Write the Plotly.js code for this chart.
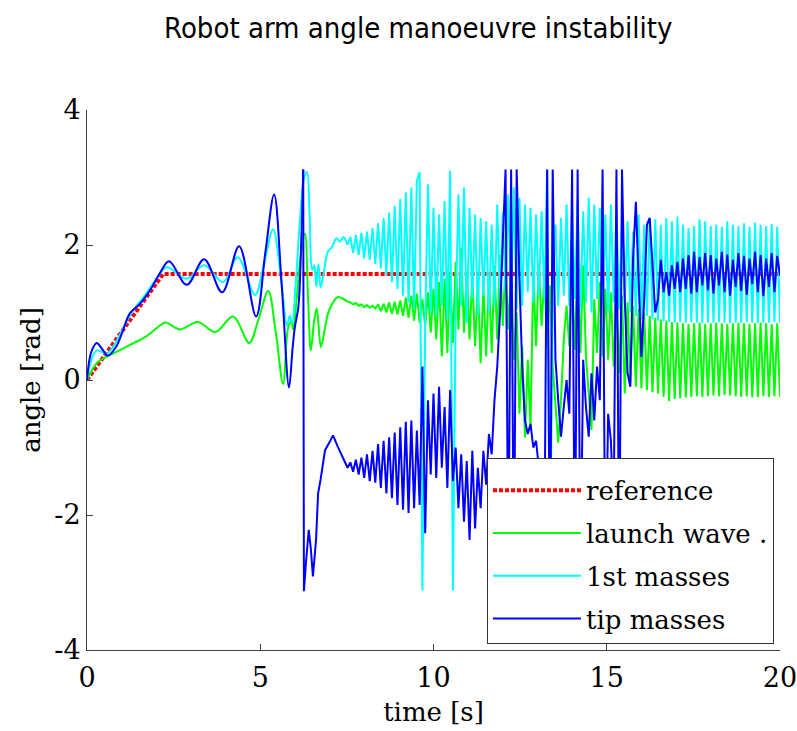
<!DOCTYPE html>
<html>
<head>
<meta charset="utf-8">
<script src="https://cdn.plot.ly/plotly-3.0.1.min.js"></script>
<style>
html,body{margin:0;padding:0;background:#fff;}
#chart{width:797px;height:731px;}
</style>
</head>
<body>
<div id="chart"></div>
<script>
// ---------- data ----------
var seriesNames = ["reference", "launch wave .", "1st masses", "tip masses"];

var xTickVals = [0, 5, 10, 15, 20];
var xTickText = ["0", "5", "10", "15", "20"];
var yTickVals = [4, 2, 0, -2, -4];
var yTickText = ["4", "2", "0", "-2", "-4"];

// reference command
var ref_t = [0, 2.2, 20];
var ref_v = [0, 1.5708, 1.5708];

// smooth early parts (time, value)
var green_t_early = [0,0.3,0.75,1.24,1.72,2.2,2.3,2.68,3.2,3.7,4.22,4.68,4.95,5.23,5.45,5.66,5.81,5.9,5.95,6.05,6.18,6.29,6.38,6.46,6.55,6.63,6.75,6.85,6.96,7.1,7.24,7.4,7.52];
var green_v_early = [0,0.26,0.39,0.52,0.65,0.84,0.85,0.75,0.86,0.71,0.94,0.55,0.9,1.32,0.7,-0.06,0.79,0.86,0.75,1.2,1.9,2.17,1.2,0.44,0.85,1.06,0.49,0.72,0.99,1.15,1.23,1.2,1.16];

var cyan_t_early = [0,0.1,0.28,0.57,0.75,1.0,1.24,1.72,2.0,2.3,2.88,3.38,3.93,4.35,4.85,5.1,5.37,5.6,5.77,5.85,5.92,6.02,6.15,6.27,6.35,6.42,6.5,6.56,6.62,6.68,6.74,6.82,6.95,7.07,7.2,7.3,7.4,7.52];
var cyan_v_early = [0,0.25,0.44,0.39,0.49,0.72,0.96,1.29,1.5,1.67,1.5,1.7,1.45,1.82,1.26,1.7,2.23,1.5,0.81,0.95,0.85,1.4,2.4,3.0,3.08,2.5,1.63,1.7,1.38,1.72,1.37,1.55,1.9,1.97,2.1,2.05,2.12,2.0];

var blue_t_early = [0,0.07,0.14,0.28,0.45,0.6,0.85,1.04,1.24,1.53,1.82,2.1,2.37,2.88,3.38,3.9,4.39,4.88,5.15,5.4,5.62,5.83,5.93,6.0,6.1,6.18,6.24];
var blue_v_early = [0,0.3,0.44,0.55,0.45,0.36,0.5,0.74,0.99,1.13,1.33,1.58,1.76,1.41,1.79,1.3,1.98,0.94,1.9,2.75,1.4,-0.11,0.45,0.79,1.08,2.0,3.12];

// tip masses after the first wrap-around
var blue_t_mid = [6.26,6.32,6.4,6.46,6.52,6.61,6.67,6.74,6.87,7.01,7.1,7.24,7.34,7.44,7.52];
var blue_v_mid = [-3.13,-2.7,-2.22,-2.5,-2.91,-2.37,-1.68,-1.48,-1.04,-0.91,-0.82,-0.99,-1.1,-1.23,-1.3];

// oscillating late part, shared sample times
var t_late = [
 7.60,7.68,7.76,7.84,7.92,8.00,8.08,8.16,8.24,8.32,
 8.40,8.48,8.56,8.64,8.72,8.80,8.88,8.96,9.04,9.12,
 9.20,9.28,9.36,9.44,9.52,9.60,9.68,9.76,9.84,9.92,
 10.00,10.08,10.16,10.24,10.32,10.40,10.48,10.56,10.64,10.72,
 10.80,10.88,10.96,11.04,11.12,11.20,11.28,11.36,11.44,11.52,
 11.60,11.68,11.76,11.84,11.92,12.00,12.08,12.16,12.24,12.32,
 12.40,12.48,12.56,12.64,12.72,12.80,12.88,12.96,13.04,13.12,
 13.20,13.28,13.36,13.44,13.52,13.60,13.68,13.76,13.84,13.92,
 14.00,14.08,14.16,14.24,14.32,14.40,14.48,14.56,14.64,14.72,
 14.80,14.88,14.96,15.04,15.12,15.20,15.28,15.36,15.44,15.52,
 15.60,15.68,15.76,15.84,15.92,16.00,16.08,16.16,16.24,16.32,
 16.40,16.48,16.56,16.64,16.72,16.80,16.88,16.96,17.04,17.12,
 17.20,17.28,17.36,17.44,17.52,17.60,17.68,17.76,17.84,17.92,
 18.00,18.08,18.16,18.24,18.32,18.40,18.48,18.56,18.64,18.72,
 18.80,18.88,18.96,19.04,19.12,19.20,19.28,19.36,19.44,19.52,
 19.60,19.68,19.76,19.84,19.92,20.00];

var green_v_late = [
 1.15,1.12,1.14,1.10,1.12,1.08,1.11,1.07,1.10,1.06,
 1.12,1.02,1.13,1.00,1.15,0.98,1.16,0.97,1.18,0.95,
 1.22,0.92,1.25,0.88,1.28,0.85,1.20,0.80,1.30,0.70,
 1.35,0.60,1.45,0.35,1.50,0.40,1.60,0.55,1.75,0.75,
 1.95,0.70,1.60,0.60,1.55,0.50,1.45,0.25,1.40,0.35,
 1.50,0.40,1.70,0.60,1.85,0.80,1.75,0.75,1.60,0.30,
 1.00,-0.50,0.50,-0.85,0.30,-0.70,1.60,0.50,1.70,0.80,
 1.55,0.50,1.40,0.20,-0.40,-0.93,-0.30,0.60,1.10,0.50,
 1.55,0.45,1.75,0.40,1.70,0.35,-0.20,-0.74,1.20,0.40,
 1.45,0.35,1.35,0.30,1.30,0.20,1.20,0.10,1.25,-0.20,
 1.15,-0.05,1.10,-0.10,1.05,-0.12,1.00,-0.15,0.95,-0.18,
 0.92,-0.20,0.90,-0.25,0.88,-0.31,0.86,-0.28,0.85,-0.27,
 0.84,-0.26,0.83,-0.25,0.84,-0.24,0.85,-0.25,0.83,-0.24,
 0.84,-0.23,0.85,-0.24,0.84,-0.22,0.83,-0.23,0.84,-0.24,
 0.85,-0.25,0.84,-0.24,0.83,-0.26,0.84,-0.25,0.85,-0.24,
 0.84,-0.25,0.83,-0.24,0.84,-0.25];

var cyan_v_late = [
 2.12,1.88,2.15,1.85,2.18,1.80,2.20,1.78,2.25,1.72,
 2.32,1.65,2.40,1.55,2.48,1.45,2.58,1.35,2.68,1.25,
 2.78,1.15,2.85,1.05,2.95,3.08,-3.12,0.85,2.90,1.00,
 2.55,0.95,2.45,1.10,2.65,0.90,3.10,-3.12,1.00,2.75,
 1.10,2.85,0.85,2.55,1.20,2.45,0.95,2.40,1.25,2.35,
 1.00,2.30,1.10,2.60,1.20,2.50,1.30,2.75,1.20,2.85,
 1.05,2.70,1.10,2.60,1.30,2.55,1.15,2.45,1.25,2.50,
 1.20,3.12,-3.12,1.30,2.30,1.10,2.40,1.25,2.60,1.10,
 2.55,1.20,2.65,1.05,2.50,1.15,2.70,1.00,2.60,1.20,
 2.55,1.10,2.45,1.00,2.60,1.15,2.50,1.05,2.40,1.10,
 2.35,1.00,2.20,0.95,2.45,0.90,2.30,0.95,2.40,0.90,
 2.38,0.88,2.30,0.87,2.40,0.86,2.35,0.85,2.42,0.86,
 2.30,0.85,2.25,0.86,2.28,0.85,2.38,0.84,2.35,0.85,
 2.28,0.85,2.30,0.86,2.27,0.85,2.35,0.84,2.30,0.85,
 2.28,0.85,2.32,0.86,2.27,0.85,2.33,0.84,2.30,0.85,
 2.28,0.85,2.31,0.86,2.27,0.85];

var blue_v_late = [
 -1.22,-1.36,-1.18,-1.40,-1.15,-1.45,-1.10,-1.50,-1.05,-1.52,
 -0.95,-1.60,-0.90,-1.68,-0.85,-1.75,-0.78,-1.85,-0.70,-1.92,
 -0.62,-1.97,-0.60,-1.90,-0.75,-1.85,0.20,-2.27,-0.30,-1.40,
 -0.20,-1.45,-0.10,-1.30,-0.40,-1.60,-0.15,-1.50,-1.00,-1.90,
 -1.10,-2.10,-1.20,-2.37,-1.05,-2.20,-1.30,-1.90,-1.05,-1.55,
 -0.80,-1.10,-0.30,0.20,1.00,2.00,3.12,-3.12,3.12,-3.12,
 3.12,1.50,0.20,-0.60,-0.80,-0.65,-1.00,-0.90,-1.30,-1.20,
 -2.50,3.12,-3.12,3.12,0.30,-0.30,-0.84,-0.40,0.00,-0.50,
 3.12,-3.12,3.12,-3.12,0.30,-0.40,-0.84,0.10,-0.60,0.20,
 -0.30,3.12,-3.12,-0.50,-0.90,-2.00,3.12,-3.12,3.12,1.20,
 0.10,-0.10,1.80,2.64,1.50,0.34,1.20,2.30,2.40,1.60,
 1.00,1.20,1.78,1.30,1.60,1.25,1.70,1.35,1.75,1.30,
 1.80,1.35,1.85,1.28,1.90,1.30,1.82,1.40,1.88,1.33,
 1.85,1.28,1.80,1.40,1.90,1.30,1.86,1.25,1.78,1.38,
 1.88,1.32,1.84,1.26,1.80,1.42,1.90,1.30,1.85,1.24,
 1.80,1.38,1.88,1.30,1.84,1.55];

var colors = {ref: "#ff0000", green: "#00ff00", cyan: "#00ffff", blue: "#0000ff"};

// ---------- build traces ----------
function last(a) { return a[a.length - 1]; }

var traces = [];
traces.push({x: ref_t, y: ref_v, mode: "lines", name: seriesNames[0], legendgroup: "g0",
  line: {color: colors.ref, width: 4, dash: "4px,2px"}});

traces.push({x: green_t_early, y: green_v_early, mode: "lines", name: seriesNames[1], legendgroup: "g1",
  line: {color: colors.green, width: 2, shape: "spline", smoothing: 1}});
traces.push({x: [last(green_t_early)].concat(t_late), y: [last(green_v_early)].concat(green_v_late),
  mode: "lines", name: seriesNames[1], legendgroup: "g1", showlegend: false,
  line: {color: colors.green, width: 2}});

traces.push({x: cyan_t_early, y: cyan_v_early, mode: "lines", name: seriesNames[2], legendgroup: "g2",
  line: {color: colors.cyan, width: 2, shape: "spline", smoothing: 1}});
traces.push({x: [last(cyan_t_early)].concat(t_late), y: [last(cyan_v_early)].concat(cyan_v_late),
  mode: "lines", name: seriesNames[2], legendgroup: "g2", showlegend: false,
  line: {color: colors.cyan, width: 2}});

traces.push({x: blue_t_early, y: blue_v_early, mode: "lines", name: seriesNames[3], legendgroup: "g3",
  line: {color: colors.blue, width: 2, shape: "spline", smoothing: 1}});
traces.push({x: [last(blue_t_early)].concat(blue_t_mid, t_late),
  y: [last(blue_v_early)].concat(blue_v_mid, blue_v_late),
  mode: "lines", name: seriesNames[3], legendgroup: "g3", showlegend: false,
  line: {color: colors.blue, width: 2}});

var serif = "DejaVu Serif, Liberation Serif, serif";
var axisCommon = {
  showgrid: false, zeroline: false, showline: true, linecolor: "#404040", linewidth: 1,
  ticks: "inside", ticklen: 6, tickwidth: 1, tickcolor: "#404040",
  tickfont: {family: serif, size: 27, color: "#000"}, tickmode: "array", automargin: false,
  ticklabeloverflow: "allow"
};

var layout = {
  width: 797, height: 731,
  margin: {l: 87, r: 17, t: 110, b: 81},
  paper_bgcolor: "#fff", plot_bgcolor: "#fff",
  showlegend: true,
  title: {text: "Robot arm angle manoeuvre instability",
    font: {family: "DejaVu Sans Condensed, Liberation Sans Narrow, DejaVu Sans, sans-serif", size: 29, color: "#000"},
    xref: "paper", x: 0.478, xanchor: "center", yref: "container", y: 0.962, yanchor: "middle"},
  xaxis: Object.assign({}, axisCommon, {range: [0, 20], tickvals: xTickVals, ticktext: xTickText,
    ticklabelstandoff: 4,
    title: {text: "time [s]", font: {family: serif, size: 26, color: "#000"}, standoff: 10}}),
  yaxis: Object.assign({}, axisCommon, {range: [-4, 4], tickvals: yTickVals, ticktext: yTickText,
    title: {text: "angle [rad]", font: {family: serif, size: 26, color: "#000"}, standoff: 6}}),
  legend: {x: 0.5772, y: 0.3556, xanchor: "left", yanchor: "top", xref: "paper", yref: "paper",
    bgcolor: "#fff", bordercolor: "#333", borderwidth: 1,
    font: {family: serif, size: 26, color: "#000"},
    title: {text: "&#160;", font: {family: serif, size: 6}},
    traceorder: "grouped", tracegroupgap: 6, itemwidth: 88},
  hovermode: false
};

Plotly.newPlot("chart", traces, layout, {staticPlot: true, displayModeBar: false});
</script>
</body>
</html>
